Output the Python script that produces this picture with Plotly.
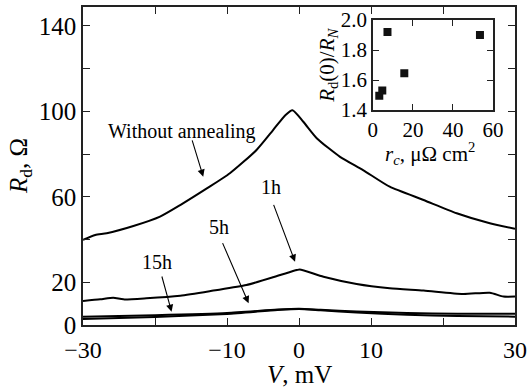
import plotly.graph_objects as go

# Main curves: bias voltage V (mV) vs differential resistance Rd (Ohm)
v_wo = [-30, -28.3, -26.7, -23.0, -19.3, -16.5, -12.8, -9.6, -5.9, -3.6, -1.9, -0.9, 0.6, 2.5, 5.7, 8.9, 12.6, 17.3, 21.9, 26.5, 30]
r_wo = [39.8, 42.1, 42.9, 46.3, 50.7, 56.1, 63.9, 71.0, 81.9, 91.2, 98.2, 100.5, 95.1, 87.3, 78.7, 72.5, 64.7, 58.5, 52.3, 47.6, 45.0]

v_1h = [-30, -27.6, -25.8, -24.4, -21.2, -16.5, -11.9, -7.3, -2.6, -0.3, 0.1, 3.4, 8.0, 12.6, 17.3, 22.8, 26.5, 28.4, 30]
r_1h = [11.2, 12.0, 12.8, 12.0, 12.5, 13.7, 16.1, 18.7, 23.4, 25.7, 26.0, 22.6, 19.2, 17.2, 16.1, 14.5, 15.1, 13.3, 13.3]

v_5h = [-30, -20, -10, -3, 0, 3, 8, 15, 22, 30]
r_5h = [3.9, 4.6, 5.6, 7.2, 7.6, 7.1, 6.3, 5.6, 5.3, 5.3]

v_15h = [-30, -20, -10, -3, 0, 3, 8, 15, 22, 30]
r_15h = [2.8, 3.8, 5.2, 7.0, 7.5, 6.9, 5.8, 4.8, 4.2, 3.9]

# Inset: contact resistivity vs normalized zero-bias resistance
rc = [7.3, 53.5, 15.7, 4.7, 3.2]
rd_ratio = [1.92, 1.90, 1.645, 1.53, 1.495]

# Tick labels
x_tickvals = [-30, -10, 0, 10, 30]
x_ticktext = ["\u221230", "\u221210", "0", "10", "30"]
y_tickvals = [0, 20, 60, 100, 140]
inset_x_ticks = [0, 20, 40, 60]
inset_y_ticks = [1.4, 1.6, 1.8, 2.0]

FONT = "Liberation Serif"
AX = "#222"

fig = go.Figure()
for v, r in [(v_wo, r_wo), (v_1h, r_1h), (v_5h, r_5h), (v_15h, r_15h)]:
    fig.add_trace(go.Scatter(x=v, y=r, mode="lines",
                             line=dict(color="black", width=2, shape="spline", smoothing=0.6),
                             showlegend=False, hoverinfo="skip"))

fig.add_trace(go.Scatter(x=rc, y=rd_ratio, mode="markers", xaxis="x2", yaxis="y2",
                         marker=dict(symbol="square", size=8, color="#111"), showlegend=False))

axcommon = dict(showline=True, linecolor=AX, linewidth=1.5, mirror="ticks", ticks="inside",
                tickcolor=AX, tickwidth=1.3, showgrid=False, zeroline=False, automargin=False,
                ticklabeloverflow="allow")

fig.update_layout(
    width=527, height=390,
    margin=dict(l=83, r=12, t=7, b=65, autoexpand=False),
    paper_bgcolor="white", plot_bgcolor="white",
    font=dict(family=FONT, color="black", size=24),
    xaxis=dict(range=[-30, 30], tickvals=x_tickvals, ticktext=x_ticktext, ticklen=7,
               minor=dict(tickvals=[-20, 20], ticklen=7, tickcolor=AX, tickwidth=1.3, ticks="inside"),
               tickfont=dict(size=24), ticklabelstandoff=2, **axcommon),
    yaxis=dict(range=[0, 148.8], tickvals=y_tickvals, ticklen=7,
               minor=dict(tickvals=[40, 80, 120], ticklen=7, tickcolor=AX, tickwidth=1.3, ticks="inside"),
               tickfont=dict(size=25), **axcommon),
    xaxis2=dict(domain=[0.671, 0.949], anchor="y2", range=[0, 60], tickvals=inset_x_ticks,
                ticklen=6, tickfont=dict(size=21), **axcommon),
    yaxis2=dict(domain=[0.676, 0.959], anchor="x2", range=[1.4, 2.0], tickvals=inset_y_ticks,
                tickformat=".1f", ticklen=6, tickfont=dict(size=21), **axcommon),
)

ann = []
def txt(x, y, t, size=20, xref="x", yref="y", angle=0):
    ann.append(dict(x=x, y=y, xref=xref, yref=yref, text=t, showarrow=False,
                    font=dict(size=size, family=FONT, color="black"), textangle=angle,
                    xanchor="center", yanchor="middle"))

def arrow(x0, y0, x1, y1):
    ann.append(dict(x=x1, y=y1, ax=x0, ay=y0, xref="x", yref="y", axref="x", ayref="y",
                    text="", showarrow=True, arrowhead=2, arrowsize=1.3, arrowwidth=1.1,
                    arrowcolor="black"))

# curve labels (placed in data coordinates)
txt(-16.2, 90.5, "Without annealing")
arrow(-14.9, 87.1, -13.3, 69.4)
txt(-3.9, 64.6, "1h")
arrow(-3.6, 56.9, -0.55, 29.6)
txt(-11.1, 46.0, "5h")
arrow(-10.7, 39.0, -7.0, 10.2)
txt(-19.7, 29.6, "15h")
arrow(-19.1, 23.4, -17.7, 6.2)

# axis titles
txt(0.5, -0.155, "<i>V</i>, mV", size=25, xref="paper", yref="paper")
txt(-0.146, 0.5, "<i>R</i><sub>d</sub>, \u03a9", size=25, xref="paper", yref="paper", angle=-90)
txt(0.567, 0.818, "<i>R</i><sub>d</sub>(0)/<i>R</i><sub><i>N</i></sub>", size=21, xref="paper", yref="paper", angle=-90)
txt(0.803, 0.54, "<i>r</i><sub><i>c</i></sub>, \u03bc\u03a9 cm<sup>2</sup>", size=21, xref="paper", yref="paper")

fig.update_layout(annotations=ann)
fig.write_html("out.html", config={"displayModeBar": False},
               post_script="document.body.style.margin='0';document.body.style.overflow='hidden';")
